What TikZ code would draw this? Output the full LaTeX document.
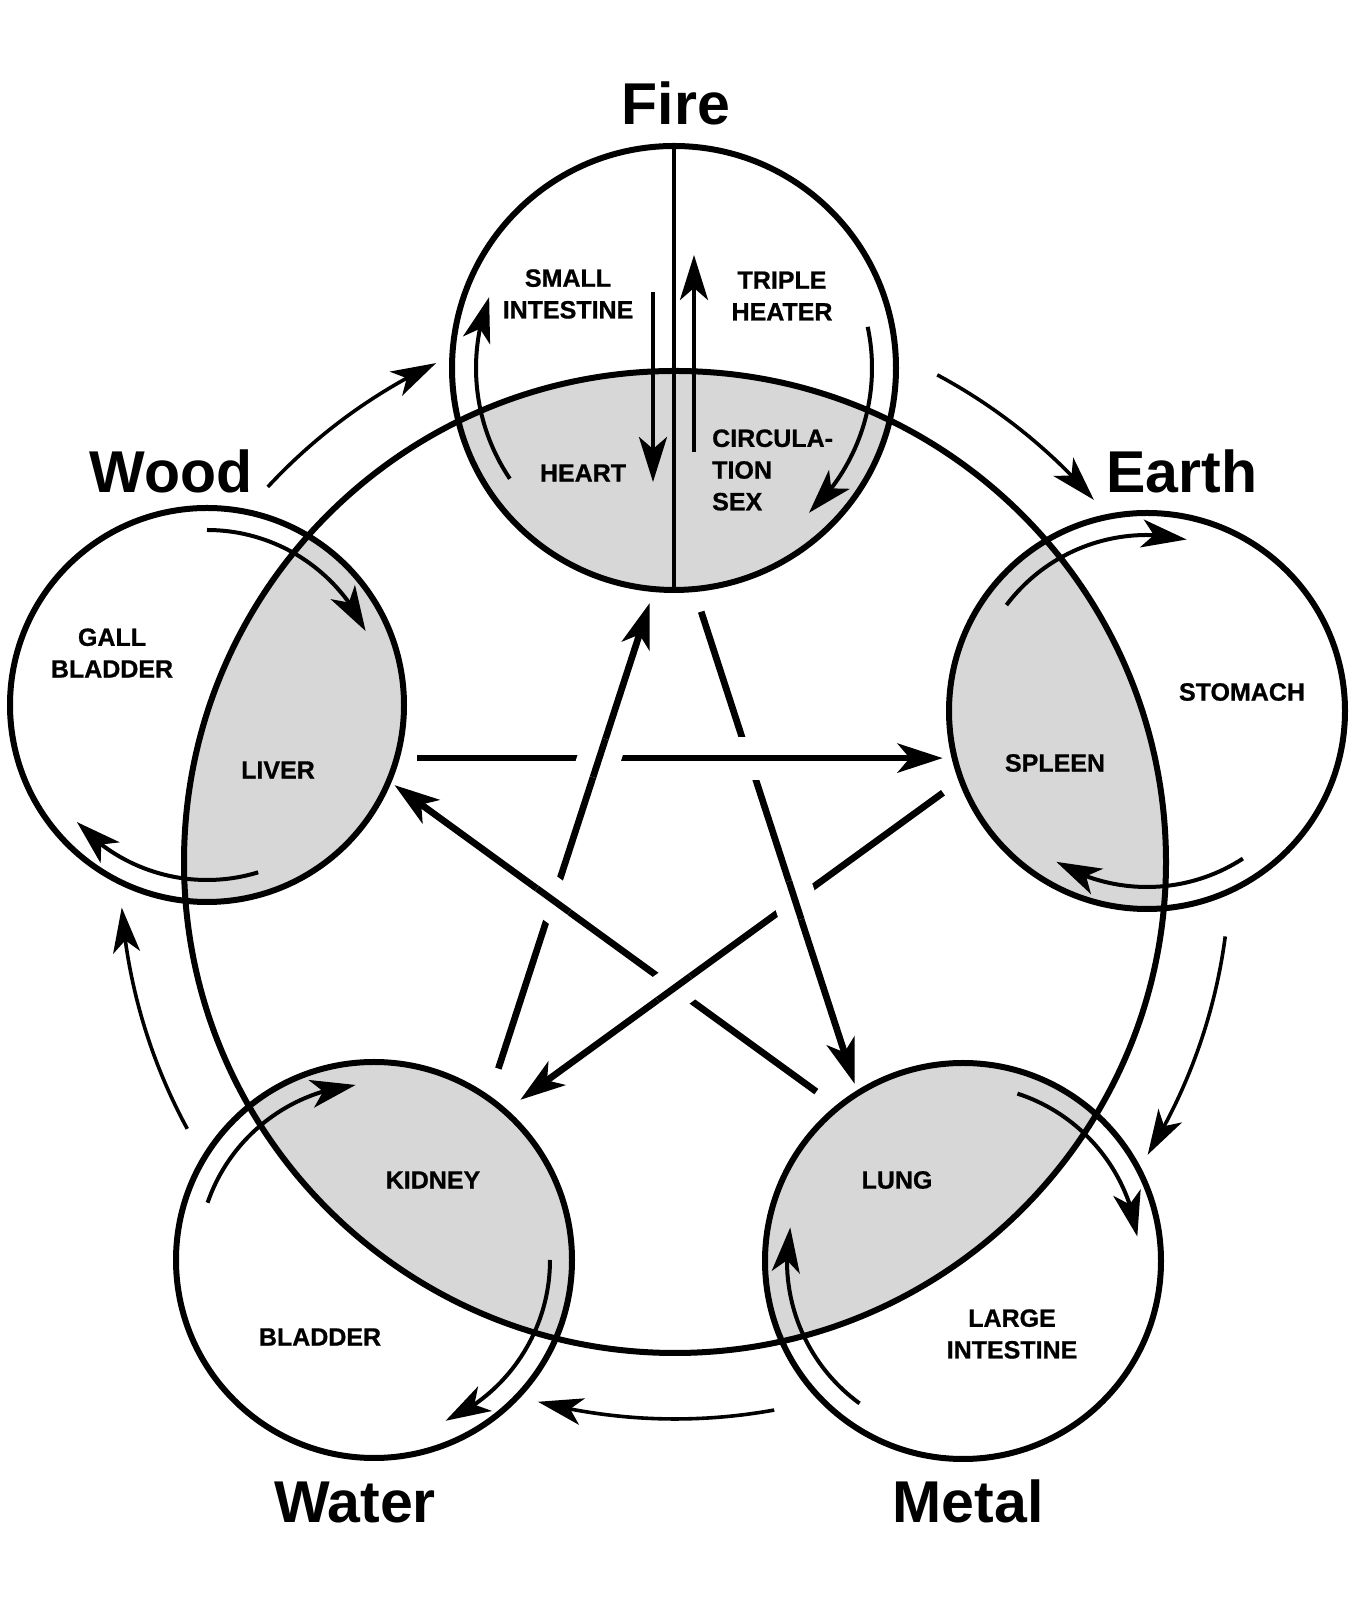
\documentclass[tikz,border=0pt]{standalone}
\usepackage{fontspec}
\setmainfont{Liberation Sans}
\newfontfamily\heavyfont{Liberation Sans Bold}[FakeBold=0.8]
\usetikzlibrary{arrows.meta,bending,calc}
\definecolor{shadegray}{RGB}{215,215,215}
\begin{document}
\begin{tikzpicture}[x=1pt,y=1pt,
  ring/.style={circle, draw, line width=6pt, inner sep=0pt, outer sep=0pt},
  elemlabel/.style={font=\fontsize{59}{65}\selectfont\bfseries, inner sep=0pt, anchor=base},
  organ/.style={font=\fontsize{25}{31.7}\selectfont\heavyfont, align=center, inner sep=0pt},
  starline/.style={line width=6.7pt, -{Stealth[length=45pt,width=29pt,inset=12pt]}},
  starplain/.style={line width=6.7pt},
  halo/.style={draw=white, line width=43pt},
  outarrow/.style={line width=3.6pt, -{Stealth[length=45pt,width=27pt,inset=12pt]}},
  inarrow/.style={line width=4pt, -{Stealth[length=45pt,width=28pt,inset=12pt]}},
  firearrow/.style={line width=4.5pt, -{Stealth[length=45pt,width=28pt,inset=12pt]}},
]
\useasboundingbox (0,0) rectangle (1360,1606);
\fill[white] (0,0) rectangle (1360,1606);

% centres
\coordinate (C) at (675,744);
\coordinate (cFire) at (674,1238);
\coordinate (cEarth) at (1147,895);
\coordinate (cWood) at (207,901);
\coordinate (cWater) at (374,346);
\coordinate (cMetal) at (963,345);

% shaded yin parts
\begin{scope}
  \clip (C) circle[radius=491];
  \fill[shadegray] (cFire) circle[radius=222];
  \fill[shadegray] (cEarth) circle[radius=198];
  \fill[shadegray] (cWood) circle[radius=197];
  \fill[shadegray] (cWater) circle[radius=198];
  \fill[shadegray] (cMetal) circle[radius=198];
\end{scope}

% circles
\node[ring, minimum size=982pt] (big) at (C) {};
\node[ring, minimum size=444pt] (fire) at (cFire) {};
\node[ring, minimum size=396pt] (earth) at (cEarth) {};
\node[ring, minimum size=394pt] (wood) at (cWood) {};
\node[ring, minimum size=396pt] (water) at (cWater) {};
\node[ring, minimum size=396pt] (metal) at (cMetal) {};

\draw[line width=3.3pt] (fire.north) -- (fire.south);

% star
\coordinate (S) at (674,745);
\coordinate (sF) at ($(S)+(90:333)$);
\coordinate (sE) at ($(S)+(18:333)$);
\coordinate (sM) at ($(S)+(-54:333)$);
\coordinate (sWa) at ($(S)+(-126:333)$);
\coordinate (sW) at ($(S)+(162:333)$);

\draw[starline, shorten <=60pt, shorten >=48pt] (sW) -- (sE);
\draw[starline, shorten <=65pt, shorten >=79pt] (sWa) -- (sF);
\draw[starline, shorten <=88pt, shorten >=49pt] (sF) -- (sM);
\draw[starline, shorten <=66pt, shorten >=46pt] (sM) -- (sW);
\draw[starline, shorten <=59pt, shorten >=52pt] (sE) -- (sWa);

\coordinate (xa) at (intersection of sW--sE and sWa--sF);
\coordinate (xb) at (intersection of sW--sE and sF--sM);
\coordinate (xc) at (intersection of sF--sM and sE--sWa);
\coordinate (xd) at (intersection of sE--sWa and sM--sW);
\coordinate (xe) at (intersection of sM--sW and sWa--sF);

\draw[starplain, preaction={halo}] ($(xa)!20pt!(sWa)$) -- ($(xa)!20pt!(sF)$);
\draw[starplain, preaction={halo}] ($(xb)!20pt!(sW)$) -- ($(xb)!20pt!(sE)$);
\draw[starplain, preaction={halo}] ($(xc)!20pt!(sF)$) -- ($(xc)!20pt!(sM)$);
\draw[starplain, preaction={halo}] ($(xd)!20pt!(sE)$) -- ($(xd)!20pt!(sWa)$);
\draw[starplain, preaction={halo}] ($(xe)!20pt!(sM)$) -- ($(xe)!20pt!(sW)$);

% outer cycle arrows
\coordinate (O) at (675,742);
\draw[outarrow] ($(O)+(137.2:555)$) arc[start angle=137.2, end angle=115.5, radius=555];
\draw[outarrow] ($(O)+(61.8:555)$) arc[start angle=61.8, end angle=41.0, radius=555];
\draw[outarrow] ($(O)+(-7.5:555)$) arc[start angle=-7.5, end angle=-31.6, radius=555];
\draw[outarrow] ($(O)+(-79.7:555)$) arc[start angle=-79.7, end angle=-104.3, radius=555];
\draw[outarrow] ($(O)+(-151.5:555)$) arc[start angle=-151.5, end angle=-175.5, radius=555];

% inner arrows
\draw[inarrow] ($(fire.center)+(214:198)$) arc[start angle=214, end angle=159, radius=198];
\draw[inarrow] ($(fire.center)+(12:198)$) arc[start angle=12, end angle=-47, radius=198];
\draw[inarrow] ($(wood.center)+(90:175)$) arc[start angle=90, end angle=25, radius=175];
\draw[inarrow] ($(wood.center)+(-73:175)$) arc[start angle=-73, end angle=-138, radius=175];
\draw[inarrow] ($(earth.center)+(143:176)$) arc[start angle=143, end angle=77, radius=176];
\draw[inarrow] ($(earth.center)+(-57:176)$) arc[start angle=-57, end angle=-121, radius=176];
\draw[inarrow] ($(water.center)+(161:176)$) arc[start angle=161, end angle=96, radius=176];
\draw[inarrow] ($(water.center)+(0:176)$) arc[start angle=0, end angle=-66, radius=176];
\draw[inarrow] ($(metal.center)+(72:176)$) arc[start angle=72, end angle=8, radius=176];
\draw[inarrow] ($(metal.center)+(234:176)$) arc[start angle=234, end angle=169, radius=176];

% fire vertical arrows
\coordinate (fd1) at (653,1314);
\coordinate (fd2) at (653,1124);
\coordinate (fu1) at (694,1154);
\coordinate (fu2) at (694,1351);
\draw[firearrow] (fd1) -- (fd2);
\draw[firearrow] (fu1) -- (fu2);

% element names
\node[elemlabel] (tFire) at (676,1481) {Fire};
\node[elemlabel] (tWood) at (171,1113) {Wood};
\node[elemlabel] (tEarth) at (1182,1113) {Earth};
\node[elemlabel] (tWater) at (355,83) {Water};
\node[elemlabel] (tMetal) at (968,83) {Metal};

% organ names
\node[organ] (si) at (568,1312) {SMALL\\INTESTINE};
\node[organ] (th) at (782,1310) {TRIPLE\\HEATER};
\node[organ] (he) at (583,1133) {HEART};
\node[organ, align=left, anchor=west] (cs) at (712,1136) {CIRCULA-\\TION\\SEX};
\node[organ] (gb) at (112,953) {GALL\\BLADDER};
\node[organ] (li) at (278,836) {LIVER};
\node[organ] (st) at (1242,914) {STOMACH};
\node[organ] (sp) at (1055,843) {SPLEEN};
\node[organ] (ki) at (433,426) {KIDNEY};
\node[organ] (bl) at (320,269) {BLADDER};
\node[organ] (lu) at (897,426) {LUNG};
\node[organ] (lg) at (1012,272) {LARGE\\INTESTINE};
\end{tikzpicture}
\end{document}
